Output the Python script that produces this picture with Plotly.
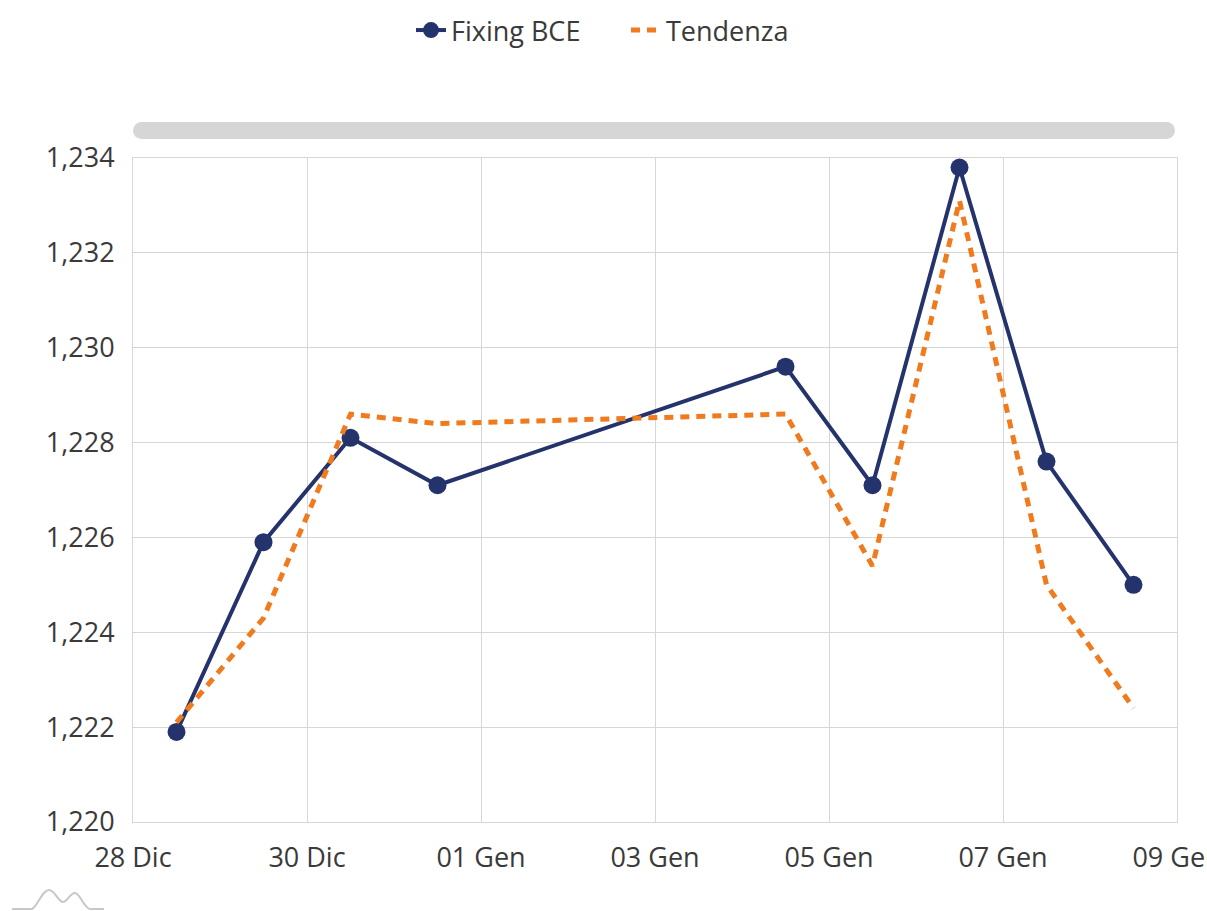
import plotly.graph_objects as go

dates = ["2020-12-28 12:00", "2020-12-29 12:00", "2020-12-30 12:00", "2020-12-31 12:00",
         "2021-01-04 12:00", "2021-01-05 12:00", "2021-01-06 12:00", "2021-01-07 12:00",
         "2021-01-08 12:00"]
fixing_bce = [1.2219, 1.2259, 1.2281, 1.2271, 1.2296, 1.2271, 1.2338, 1.2276, 1.2250]
tendenza = [1.2221, 1.2243, 1.2286, 1.2284, 1.2286, 1.2254, 1.2331, 1.2250, 1.2224]
tick_vals = ["2020-12-28", "2020-12-30", "2021-01-01", "2021-01-03", "2021-01-05",
             "2021-01-07", "2021-01-09"]
tick_text = ["28 Dic", "30 Dic", "01 Gen", "03 Gen", "05 Gen", "07 Gen", "09 Gen"]

NAVY = "#24336b"
ORANGE = "#f07b1f"
GRID = "#d6d6d6"
TEXT = "#3a3a3a"
FONT = "Open Sans"
FS = 27

W, H = 1207, 911
# plot area in page pixels
L, R, T, B = 133, 1177, 158, 822

fig = go.Figure()
fig.add_trace(go.Scatter(x=dates, y=fixing_bce, name="Fixing BCE", mode="lines+markers",
                         line=dict(color=NAVY, width=4),
                         marker=dict(color=NAVY, size=18)))
fig.add_trace(go.Scatter(x=dates, y=tendenza, name="Tendenza", mode="lines",
                         line=dict(color=ORANGE, width=5, dash="9px,7px")))


def px(x):  # page x -> paper
    return (x - L) / (R - L)


def py(y):  # page y -> paper
    return (B - y) / (B - T)


def P(x, y):
    return f"{px(x):.4f},{py(y):.4f}"


# scrollbar
sb_top, sb_bot, r = 122, 139, 8.5
shapes = [
    dict(type="rect", xref="paper", yref="paper", x0=px(L + r), x1=px(1175 - r),
         y0=py(sb_bot), y1=py(sb_top), fillcolor="#d6d6d6", line=dict(width=0), layer="below"),
]
for cx in (L + r, 1175 - r):
    shapes.append(dict(type="circle", xref="paper", yref="paper", xsizemode="pixel", ysizemode="pixel",
                       xanchor=px(cx), yanchor=py((sb_top + sb_bot) / 2),
                       x0=-r, x1=r, y0=-r, y1=r, fillcolor="#d6d6d6", line=dict(width=0)))
# small logo (two soft humps on a baseline)
path = (f"M {P(12, 909)} L {P(32, 909)} "
        f"C {P(38, 906)} {P(42, 890)} {P(49, 890)} "
        f"C {P(55, 890)} {P(58, 902)} {P(63, 902)} "
        f"C {P(67, 902)} {P(70, 893)} {P(75, 893)} "
        f"C {P(80, 893)} {P(84, 908)} {P(90, 909)} "
        f"L {P(104, 909)}")
shapes.append(dict(type="path", xref="paper", yref="paper", path=path,
                   line=dict(color="#c8c8c8", width=2)))

fig.update_layout(
    width=W, height=H,
    margin=dict(l=L, r=W - R, t=T, b=H - B, autoexpand=False),
    paper_bgcolor="white", plot_bgcolor="white",
    font=dict(family=FONT, size=FS, color=TEXT),
    separators=",.",
    showlegend=True,
    legend=dict(orientation="h", x=411 / W, xanchor="left", xref="container",
                y=1.0 - 6 / H, yref="container", yanchor="top", font=dict(size=FS, color=TEXT),
                entrywidth=170, entrywidthmode="pixels", borderwidth=0),
    shapes=shapes,
    hovermode=False,
)
fig.update_xaxes(type="date", range=["2020-12-28", "2021-01-09"], tickvals=tick_vals, ticktext=tick_text,
                 showgrid=True, gridcolor=GRID, gridwidth=1, showline=True, linecolor=GRID, mirror=True,
                 ticks="", ticklabelstandoff=12, ticklabeloverflow="allow", automargin=False,
                 tickfont=dict(size=FS, color=TEXT))
fig.update_yaxes(range=[1.220, 1.234], dtick=0.002, tick0=1.220, tickformat=".3f",
                 showgrid=True, gridcolor=GRID, gridwidth=1, showline=True, linecolor=GRID, mirror=True,
                 zeroline=False, ticks="", ticklabelstandoff=12, automargin=False,
                 tickfont=dict(size=FS, color=TEXT))

fig.write_html("out.html", config={"displayModeBar": False},
               post_script="document.body.style.margin='0';document.body.style.overflow='hidden';")
